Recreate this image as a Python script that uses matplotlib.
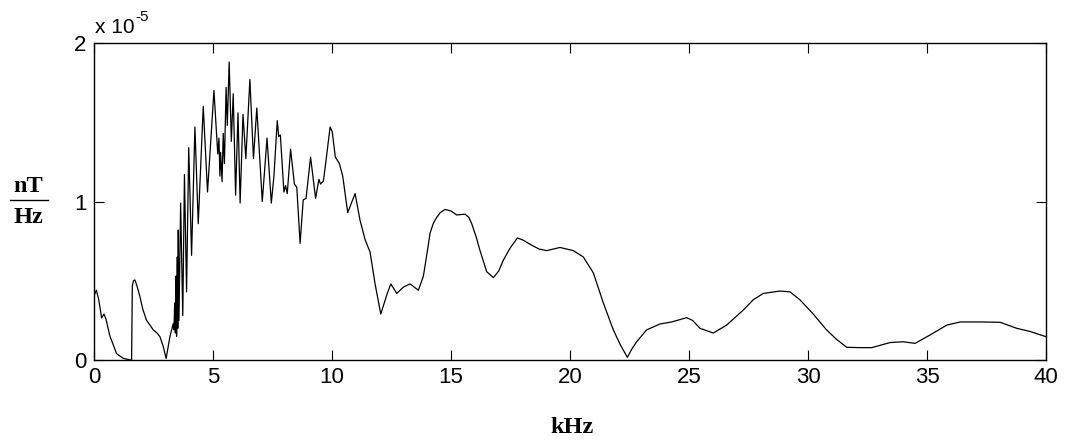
import matplotlib
matplotlib.use("Agg")
import matplotlib.pyplot as plt
from matplotlib.lines import Line2D

# frequency (kHz) and amplitude (x 1e-5 nT/Hz)
freq_khz = [0.00, 0.04, 0.10, 0.20, 0.32, 0.42, 0.50, 0.67, 0.95, 1.23, 1.55, 1.58, 1.61, 1.66, 1.72, 1.80, 1.93, 2.05,
            2.21, 2.49, 2.65, 2.77, 2.90, 3.03, 3.19, 3.28,
            3.33, 3.36, 3.39, 3.42, 3.45, 3.47, 3.50, 3.52, 3.54, 3.57, 3.64, 3.73, 3.80, 3.89, 3.98, 4.10, 4.24,
            4.38, 4.59, 4.77, 5.04, 5.20, 5.25, 5.29, 5.32, 5.38, 5.43, 5.48, 5.55, 5.60, 5.68, 5.77, 5.85, 5.95,
            6.05, 6.14, 6.26, 6.38, 6.55, 6.70, 6.84, 7.07, 7.27, 7.45, 7.56, 7.70, 7.76, 7.83, 7.98, 8.05, 8.12,
            8.26, 8.42, 8.52, 8.66, 8.79, 8.91, 9.10, 9.31, 9.45, 9.52, 9.64, 9.75, 9.92, 10.01, 10.14, 10.31,
            10.45, 10.66, 10.97, 11.18, 11.39, 11.60, 11.81, 12.05, 12.30, 12.47, 12.72, 13.00, 13.28, 13.63,
            13.84, 14.00, 14.12, 14.25, 14.40, 14.55, 14.75, 15.00, 15.24, 15.59, 15.75, 15.87, 16.05, 16.22,
            16.50, 16.78, 17.00, 17.20, 17.50, 17.79, 18.05, 18.32, 18.70, 19.02, 19.58, 20.14, 20.56, 20.98,
            21.40, 21.82, 22.10, 22.41, 22.60, 22.80, 23.22, 23.78, 24.27, 24.90, 25.15, 25.46, 26.02, 26.58,
            27.28, 27.70, 28.12, 28.82, 29.24, 29.66, 30.22, 30.78, 31.20, 31.63, 32.18, 32.68, 33.45, 34.00,
            34.50, 35.13, 35.83, 36.39, 37.23, 38.07, 38.77, 39.33, 40.00]
amp_e5 = [0.40, 0.42, 0.44, 0.38, 0.265, 0.29, 0.26, 0.15, 0.04, 0.01, 0.00, 0.00, 0.47, 0.50, 0.505, 0.47, 0.40, 0.32,
          0.25, 0.19, 0.17, 0.147, 0.09, 0.01, 0.147, 0.20,
          0.23, 0.19, 0.36, 0.17, 0.53, 0.15, 0.65, 0.20, 0.82, 0.25, 0.99, 0.28, 1.17, 0.43, 1.34, 0.66, 1.47,
          0.86, 1.60, 1.06, 1.70, 1.30, 1.40, 1.16, 1.31, 1.125, 1.43, 1.24, 1.72, 1.48, 1.88, 1.38, 1.68, 1.04,
          1.56, 0.99, 1.55, 1.27, 1.77, 1.27, 1.59, 1.00, 1.40, 0.99, 1.16, 1.51, 1.41, 1.42, 1.06, 1.10, 1.05,
          1.33, 1.11, 1.09, 0.736, 1.01, 1.02, 1.28, 1.02, 1.14, 1.11, 1.13, 1.26, 1.47, 1.44, 1.28, 1.24,
          1.16, 0.93, 1.05, 0.88, 0.76, 0.68, 0.48, 0.29, 0.41, 0.48, 0.42, 0.46, 0.48, 0.44,
          0.53, 0.68, 0.80, 0.86, 0.90, 0.93, 0.95, 0.94, 0.915, 0.92, 0.90, 0.86, 0.78, 0.69,
          0.557, 0.52, 0.56, 0.63, 0.71, 0.77, 0.755, 0.73, 0.70, 0.69, 0.71, 0.69, 0.65, 0.55,
          0.36, 0.19, 0.10, 0.017, 0.07, 0.115, 0.19, 0.227, 0.24, 0.267, 0.25, 0.20, 0.17, 0.22,
          0.315, 0.38, 0.42, 0.435, 0.43, 0.38, 0.29, 0.19, 0.13, 0.08, 0.078, 0.078, 0.11, 0.115,
          0.105, 0.158, 0.22, 0.24, 0.24, 0.238, 0.20, 0.18, 0.147]

x_ticks = [0, 5, 10, 15, 20, 25, 30, 35, 40]
y_ticks = [0, 1e-5, 2e-5]
y_tick_labels = ["0", "1", "2"]

W, H = 1069, 443
fig = plt.figure(figsize=(W / 100, H / 100), dpi=100)
ax = fig.add_axes([94 / W, 1 - 360 / H, (1046 - 94) / W, (360 - 43) / H])

ax.plot(freq_khz, [v * 1e-5 for v in amp_e5], color="black", lw=0.9)

ax.set_xlim(0, 40)
ax.set_ylim(0, 2e-5)
ax.set_xticks(x_ticks)
ax.set_yticks(y_ticks)
ax.set_yticklabels(y_tick_labels)
for lab in ax.get_xticklabels() + ax.get_yticklabels():
    lab.set_fontfamily("Liberation Sans")
    lab.set_fontsize(16)
ax.tick_params(direction="in", length=7, width=0.8, top=True, right=True)
ax.tick_params(axis="x", pad=5)
ax.tick_params(axis="y", pad=5.5)
for sp in ax.spines.values():
    sp.set_linewidth(1.0)

# exponent annotation
fig.text(95 / W, 1 - 33 / H, "x 10", fontfamily="Liberation Sans", fontsize=15, va="baseline", ha="left")
fig.text(135 / W, 1 - 21 / H, "-5", fontfamily="Liberation Sans", fontsize=11, va="baseline", ha="left")

# y label as fraction
serif_bold = {"family": "Liberation Serif", "weight": "bold", "size": 17.5}
fig.text(28 / W, 1 - 192 / H, "nT", fontdict=serif_bold, ha="center", va="baseline")
fig.text(28 / W, 1 - 223 / H, "Hz", fontdict=serif_bold, ha="center", va="baseline")
fig.add_artist(Line2D([10 / W, 48 / W], [1 - 200 / H, 1 - 200 / H], color="black", lw=1.0,
                      transform=fig.transFigure))

# x label
fig.text(572 / W, 1 - 433 / H, "kHz", fontdict=serif_bold, ha="center", va="baseline")

fig.savefig("out.png", dpi=100)
